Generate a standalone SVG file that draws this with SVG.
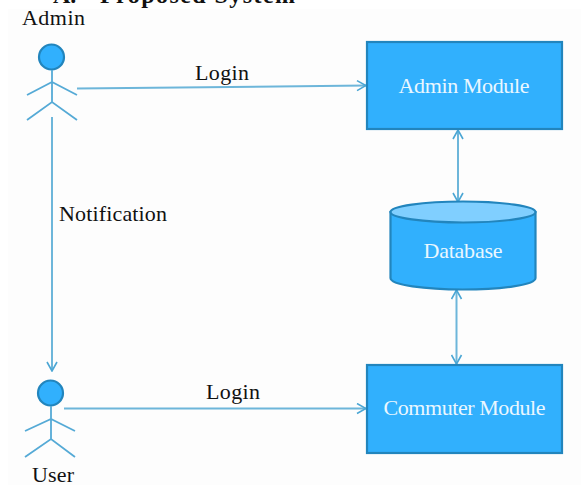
<svg xmlns="http://www.w3.org/2000/svg" width="581" height="485" viewBox="0 0 581 485">
<style>
text{font-family:"Liberation Serif","Times New Roman",serif}
.l{font-size:22px;fill:#111}
.w{font-size:22px;fill:#eaf7ff;text-anchor:middle}
.t{font-size:24px;font-weight:bold;fill:#111}
.c{fill:none;stroke:#6db6da;stroke-width:2}
.s{fill:none;stroke:#55aad6;stroke-width:1.800}
.n{fill:#31b0fd;stroke:#2285bd;stroke-width:2.200}
</style>
<defs>
<marker id="a" viewBox="0 0 12 12" refX="11" refY="6" markerWidth="12" markerHeight="12" markerUnits="userSpaceOnUse" orient="auto-start-reverse"><path d="M2 1L11 6L2 11" fill="none" stroke="#4ba6d4" stroke-width="1.600"/></marker>
</defs>
<rect width="581" height="485" fill="#fff"/>
<rect x="8" y="9" width="573" height="476" fill="#fdfdfd"/>
<text class="t" x="53" y="3">A.</text>
<text class="t" x="100" y="3" textLength="195">Proposed System</text>
<g id="connectors">
<path class="c" d="M77 88.500L366 85.500" marker-end="url(#a)"/>
<path class="c" d="M64 408.500H366" marker-end="url(#a)"/>
<path class="c" d="M52 117V371" marker-end="url(#a)"/>
<path class="c" d="M458 130V202" marker-start="url(#a)" marker-end="url(#a)"/>
<path class="c" d="M456.500 290V364" marker-start="url(#a)" marker-end="url(#a)"/>
<text class="l" x="195" y="80" textLength="54">Login</text>
<text class="l" x="206" y="399" textLength="54">Login</text>
<text class="l" x="59" y="221" textLength="108">Notification</text>
</g>
<g id="admin">
<circle class="n" cx="51.500" cy="57" r="12.500"/>
<path class="s" d="M52 70V102M27 95L52 82L77 95M27 120L52 102L77 120"/>
<text class="l" x="22" y="25" textLength="63">Admin</text>
</g>
<g id="user">
<circle class="n" cx="50.500" cy="393" r="12.500"/>
<path class="s" d="M51 406V439M25 431L51 419L75 431M25 457L51 439L75 457"/>
<text class="l" x="32" y="482" textLength="42">User</text>
</g>
<g id="admin-module">
<rect class="n" x="367" y="42" width="195" height="87"/>
<text class="w" x="464" y="93" textLength="131">Admin Module</text>
</g>
<g id="database">
<path class="n" d="M390.500 212V278C390.500 285 425 289.500 463 289.500S535.500 285 535.500 278V212Z"/>
<ellipse cx="463" cy="212" rx="72.500" ry="10.500" fill="#80cfff" stroke="#2285bd" stroke-width="2.200"/>
<text class="w" x="463" y="258" textLength="79">Database</text>
</g>
<g id="commuter-module">
<rect class="n" x="367" y="365" width="195" height="88"/>
<text class="w" x="464.500" y="415" textLength="162">Commuter Module</text>
</g>
</svg>
